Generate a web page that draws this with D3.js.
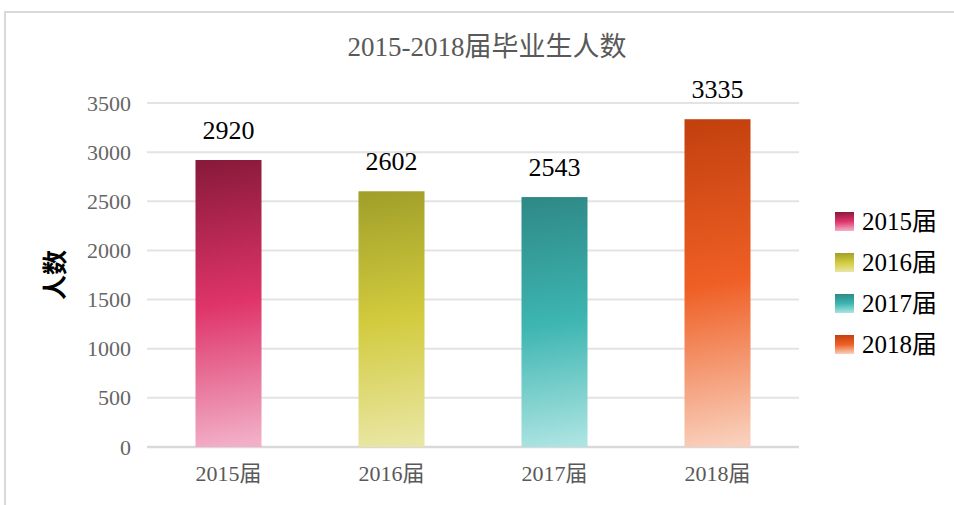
<!DOCTYPE html>
<html>
<head>
<meta charset="utf-8">
<script src="https://cdn.jsdelivr.net/npm/d3@7"></script>
<style>
  body { margin: 0; background: #fff; }
  text { font-family: "Liberation Serif", "Noto Sans CJK SC", serif; }
</style>
</head>
<body>
<svg id="chart" width="954" height="505"></svg>
<script>
var categories = ["2015届", "2016届", "2017届", "2018届"];
var values = [2920, 2602, 2543, 3335];
var yTicks = [0, 500, 1000, 1500, 2000, 2500, 3000, 3500];
var gradStops = [
    ["#8a1a3b", "#df346a", "#f2b0c8"],
    ["#a2a02a", "#d2cb3e", "#e9e6a4"],
    ["#2f8a87", "#3db5b1", "#ace4e2"],
    ["#c3410f", "#ef5f25", "#f9d0bc"]
];

var svg = d3.select("#chart");
var plotLeft = 147, plotRight = 799, plotTop = 103, plotBottom = 447;

// border of the chart area
svg.append("rect")
    .attr("x", 5).attr("y", 12)
    .attr("width", 1000).attr("height", 600)
    .attr("fill", "none")
    .attr("stroke", "#d9d9d9")
    .attr("stroke-width", 2);

var defs = svg.append("defs");
gradStops.forEach(function(c, i) {
    var g = defs.append("linearGradient")
        .attr("id", "grad" + i)
        .attr("x1", "0.48").attr("y1", "0")
        .attr("x2", "0.52").attr("y2", "1");
    g.append("stop").attr("offset", "0").attr("stop-color", c[0]);
    g.append("stop").attr("offset", "0.5").attr("stop-color", c[1]);
    g.append("stop").attr("offset", "1").attr("stop-color", c[2]);
});

var x = d3.scaleBand()
    .domain(categories)
    .range([plotLeft, plotRight]);

var y = d3.scaleLinear()
    .domain([0, 3500])
    .range([plotBottom, plotTop]);

// title
svg.append("text")
    .attr("x", 487).attr("y", 56)
    .attr("text-anchor", "middle")
    .attr("font-size", 27)
    .attr("fill", "#595959")
    .text("2015-2018届毕业生人数");

// gridlines
svg.append("g")
    .selectAll("line")
    .data(yTicks)
    .enter()
    .append("line")
        .attr("x1", plotLeft).attr("x2", plotRight)
        .attr("y1", function(d) { return y(d); })
        .attr("y2", function(d) { return y(d); })
        .attr("stroke", function(d) { return d == 0 ? "#d9d9d9" : "#e3e3e3"; })
        .attr("stroke-width", function(d) { return d == 0 ? 2.5 : 2; });

// y axis labels
var yAxis = svg.append("g")
    .attr("transform", "translate(" + (plotLeft - 16) + ",0)")
    .call(d3.axisLeft(y).tickValues(yTicks).tickFormat(d3.format("d")).tickSize(0).tickPadding(0));
yAxis.select(".domain").remove();
yAxis.selectAll("text")
    .attr("font-size", 22)
    .attr("font-family", "Liberation Serif, serif")
    .attr("fill", "#666666");

// x axis labels
var xAxis = svg.append("g")
    .attr("transform", "translate(0," + plotBottom + ")")
    .call(d3.axisBottom(x).tickSize(0).tickPadding(18));
xAxis.select(".domain").remove();
xAxis.selectAll("text")
    .attr("font-size", 22)
    .attr("font-family", "Liberation Serif, Noto Sans CJK SC, serif")
    .attr("fill", "#595959");

// y axis title
svg.append("text")
    .attr("transform", "translate(64,275) rotate(-90)")
    .attr("text-anchor", "middle")
    .attr("font-size", 25)
    .attr("font-weight", "bold")
    .attr("font-family", "Noto Sans CJK SC, sans-serif")
    .attr("fill", "#000")
    .text("人数");

var barW = x.bandwidth() * 0.405;

svg.append("g")
    .selectAll("rect")
    .data(values)
    .enter()
    .append("rect")
        .attr("x", function(d, i) { return x(categories[i]) + (x.bandwidth() - barW) / 2; })
        .attr("y", function(d) { return y(d); })
        .attr("width", barW)
        .attr("height", function(d) { return y(0) - y(d); })
        .attr("fill", function(d, i) { return "url(#grad" + i + ")"; });

svg.append("g")
    .selectAll("text")
    .data(values)
    .enter()
    .append("text")
        .attr("x", function(d, i) { return x(categories[i]) + x.bandwidth() / 2; })
        .attr("y", function(d) { return y(d) - 21; })
        .attr("text-anchor", "middle")
        .attr("font-size", 26)
        .attr("fill", "#000")
        .text(function(d) { return d; });

// legend
var legend = svg.append("g")
    .selectAll("g")
    .data(categories)
    .enter()
    .append("g")
        .attr("transform", function(d, i) { return "translate(835," + (212 + i * 41) + ")"; });

legend.append("rect")
    .attr("width", 19).attr("height", 19)
    .attr("fill", function(d, i) { return "url(#grad" + i + ")"; });

legend.append("text")
    .attr("x", 27).attr("y", 18)
    .attr("font-size", 25)
    .attr("fill", "#000")
    .text(function(d) { return d; });
</script>
</body>
</html>
